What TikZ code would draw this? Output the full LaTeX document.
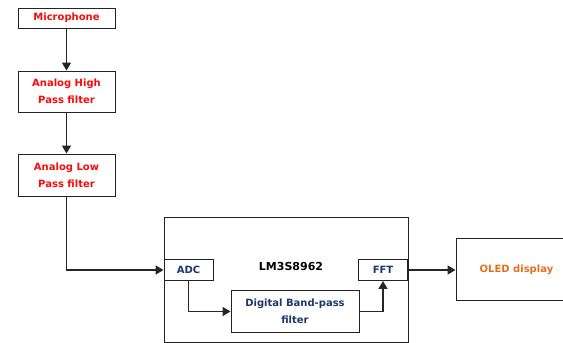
\documentclass[tikz,border=0pt]{standalone}
\usepackage{fontspec}
\setmainfont{DejaVu Sans}
\usepackage{xcolor}
\usepackage{tikz}
\usetikzlibrary{arrows.meta,positioning,calc}
\definecolor{labred}{RGB}{250,10,10}
\definecolor{labblue}{RGB}{30,55,110}
\definecolor{laborange}{RGB}{228,112,30}
\definecolor{edgegray}{RGB}{35,35,35}

\begin{document}
\begin{tikzpicture}[x=1pt,y=-1pt,>={Triangle[width=9pt,length=8pt]},
  blk/.style={draw=edgegray,line width=0.9pt,fill=white,align=center,inner sep=0pt,
              font=\bfseries\fontsize{10}{17}\selectfont},
  sig/.style={->,line width=1.5pt,draw=black!85}]
  \useasboundingbox (0,0) rectangle (563,343);

  % analog chain
  \node[blk,text=labred,minimum width=97pt,minimum height=20pt] (mic) at (66.5,18) {Microphone};
  \node[blk,text=labred,minimum width=97pt,minimum height=41pt] (hpf) at (66.5,91.5) {Analog High\\Pass filter};
  \node[blk,text=labred,minimum width=97pt,minimum height=42pt] (lpf) at (66.5,175) {Analog Low\\Pass filter};

  % micro-controller
  \node[blk,minimum width=244pt,minimum height=125pt] (mcu) at (286,279.5) {};
  \node[font=\bfseries\fontsize{11}{13}\selectfont] (mcutitle) at (291,266) {LM3S8962};
  \node[blk,text=labblue,minimum width=49pt,minimum height=21pt] (adc) at (188.5,270) {ADC};
  \node[blk,text=labblue,minimum width=49pt,minimum height=21pt] (fft) at (383,270) {FFT};
  \node[blk,text=labblue,minimum width=128pt,minimum height=42pt] (dbp) at (295,311.5) {Digital Band-pass\\filter};

  \node[blk,text=laborange,minimum width=121pt,minimum height=62pt] (oled) at (516.5,269.5) {OLED display};

  \draw[sig] (mic) -- (hpf);
  \draw[sig] (hpf) -- (lpf);
  \draw[sig] (lpf.south) |- (adc.west);
  \draw[sig] (adc.south) |- (dbp.west);
  \draw[sig] (dbp.east) -| (fft.south);
  \draw[sig] (fft.east) -- (fft.east -| oled.west);
\end{tikzpicture}
\end{document}
